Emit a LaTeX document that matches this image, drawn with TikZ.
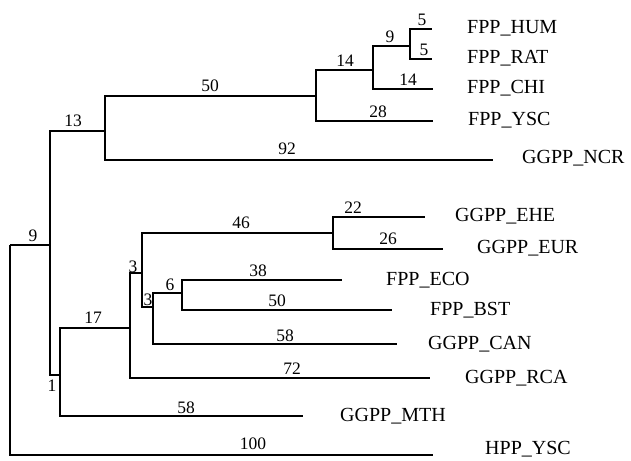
\documentclass[tikz,border=0pt]{standalone}
\usepackage{fontspec}
\setmainfont{Liberation Serif}
\usetikzlibrary{calc}

\tikzset{
    branch/.style={line width=1.4pt},
    taxon/.style={anchor=west, inner sep=0pt, font=\fontsize{20}{22}\selectfont},
    blen/.style={inner sep=0pt, font=\fontsize{17.5}{19}\selectfont}
}

\begin{document}
\begin{tikzpicture}[x=1pt,y=-1pt]

\useasboundingbox (0,0) rectangle (631,460);

% Internal nodes
\coordinate (root) at (10,245);
\coordinate (n9)   at (50,245);
\coordinate (n13)  at (105,131);
\coordinate (n50)  at (316,96);
\coordinate (n14)  at (373,70);
\coordinate (n9b)  at (410,46);
\coordinate (n1)   at (60,375);
\coordinate (n17)  at (130,328);
\coordinate (n3a)  at (142,273);
\coordinate (n46)  at (333,233);
\coordinate (n3b)  at (153,307);
\coordinate (n6)   at (182,293);

% Leaf tips
\coordinate (tHUM) at (432,29);
\coordinate (tRAT) at (432,59);
\coordinate (tCHI) at (433,89);
\coordinate (tYSC) at (433,121);
\coordinate (tNCR) at (493,160);
\coordinate (tEHE) at (425,217);
\coordinate (tEUR) at (443,249);
\coordinate (tECO) at (342,280);
\coordinate (tBST) at (392,310);
\coordinate (tCAN) at (397,344);
\coordinate (tRCA) at (430,378);
\coordinate (tMTH) at (303,416);
\coordinate (tHPP) at (433,455);

% Taxa
\node[taxon] (HUM) at (467,28)  {FPP\_HUM};
\node[taxon] (RAT) at (467,58)  {FPP\_RAT};
\node[taxon] (CHI) at (467,88)  {FPP\_CHI};
\node[taxon] (YSC) at (468,120) {FPP\_YSC};
\node[taxon] (NCR) at (522,158) {GGPP\_NCR};
\node[taxon] (EHE) at (455,216) {GGPP\_EHE};
\node[taxon] (EUR) at (477,248) {GGPP\_EUR};
\node[taxon] (ECO) at (386,280) {FPP\_ECO};
\node[taxon] (BST) at (430,310) {FPP\_BST};
\node[taxon] (CAN) at (428,344) {GGPP\_CAN};
\node[taxon] (RCA) at (465,378) {GGPP\_RCA};
\node[taxon] (MTH) at (340,416) {GGPP\_MTH};
\node[taxon] (HPP) at (485,449) {HPP\_YSC};

% Upper clade
\draw[branch] (root) |- (n9);
\draw[branch] (n9) |- (n13);
\draw[branch] (n13) |- (n50);
\draw[branch] (n13) |- (tNCR);
\draw[branch] (n50) |- (n14);
\draw[branch] (n50) |- (tYSC);
\draw[branch] (n14) |- (n9b);
\draw[branch] (n14) |- (tCHI);
\draw[branch] (n9b) |- (tHUM);
\draw[branch] (n9b) |- (tRAT);

% Lower clade
\draw[branch] (n9) |- (n1);
\draw[branch] (n1) |- (n17);
\draw[branch] (n1) |- (tMTH);
\draw[branch] (n17) |- (n3a);
\draw[branch] (n17) |- (tRCA);
\draw[branch] (n3a) |- (n46);
\draw[branch] (n3a) |- (n3b);
\draw[branch] (n46) |- (tEHE);
\draw[branch] (n46) |- (tEUR);
\draw[branch] (n3b) |- (n6);
\draw[branch] (n3b) |- (tCAN);
\draw[branch] (n6) |- (tECO);
\draw[branch] (n6) |- (tBST);

% Outgroup
\draw[branch] (root) |- (tHPP);

% Branch lengths
\node[blen] (b9)    at (33,236)  {9};
\node[blen] (b13)   at (73,121)  {13};
\node[blen] (b50)   at (210,86)  {50};
\node[blen] (b92)   at (287,149) {92};
\node[blen] (b14)   at (345,61)  {14};
\node[blen] (b28)   at (378,112) {28};
\node[blen] (b9b)   at (390,37)  {9};
\node[blen] (b14c)  at (408,80)  {14};
\node[blen] (b5h)   at (422,20)  {5};
\node[blen] (b5r)   at (424,50)  {5};
\node[blen] (b46)   at (241,223) {46};
\node[blen] (b22)   at (353,208) {22};
\node[blen] (b26)   at (388,239) {26};
\node[blen] (b3a)   at (133,267) {3};
\node[blen] (b3b)   at (148,300) {3};
\node[blen] (b6)    at (170,285) {6};
\node[blen] (b38)   at (258,271) {38};
\node[blen] (b50b)  at (277,301) {50};
\node[blen] (b58c)  at (285,336) {58};
\node[blen] (b72)   at (292,369) {72};
\node[blen] (b17)   at (93,318)  {17};
\node[blen] (b1)    at (52,386)  {1};
\node[blen] (b58m)  at (186,408) {58};
\node[blen] (b100)  at (253,444) {100};

\end{tikzpicture}
\end{document}
